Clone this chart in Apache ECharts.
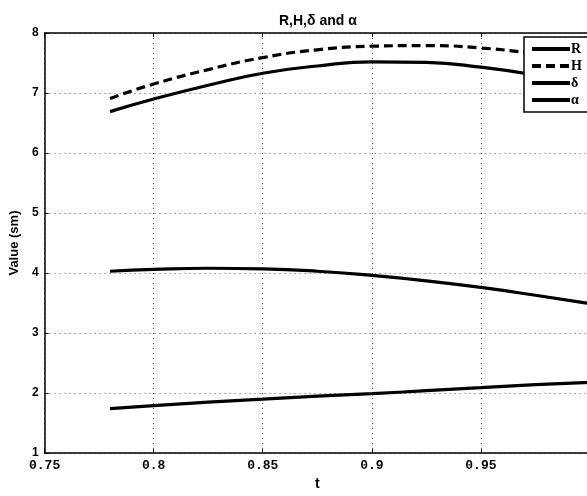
<!DOCTYPE html>
<html>
<head>
<meta charset="utf-8">
<script src="https://cdn.jsdelivr.net/npm/echarts@6/dist/echarts.min.js"></script>
<style>
html, body { margin: 0; padding: 0; background: #fff; overflow: hidden; }
#chart { width: 600px; height: 496px; }
</style>
</head>
<body>
<div id="chart"></div>
<script>
// values
var tVals = [0.78, 0.8, 0.825, 0.85, 0.875, 0.9, 0.925, 0.95, 0.975, 1.0];
var rVals = [6.69, 6.90, 7.13, 7.33, 7.45, 7.52, 7.51, 7.43, 7.30, 7.12];
var hVals = [6.91, 7.15, 7.39, 7.59, 7.72, 7.78, 7.79, 7.75, 7.65, 7.50];
var dVals = [4.03, 4.06, 4.08, 4.07, 4.03, 3.96, 3.87, 3.76, 3.63, 3.49];
var aVals = [1.74, 1.79, 1.85, 1.90, 1.95, 1.99, 2.04, 2.09, 2.14, 2.18];
var names = ['R', 'H', 'δ', 'α'];

function pairs(ys) {
    var out = [];
    for (var i = 0; i < tVals.length; i++) {
        out.push([tVals[i], ys[i]]);
    }
    return out;
}

function makeLine(name, ys, dashed) {
    return {
        name: name,
        type: 'line',
        smooth: true,
        symbol: 'none',
        data: pairs(ys),
        lineStyle: { color: '#000', width: 3.2, type: dashed ? [9, 5] : 'solid' },
        itemStyle: { color: '#000' }
    };
}

// the plot runs a few px past the window edge, like the original figure
var myChart = echarts.init(document.getElementById('chart'), null, { renderer: 'canvas' });
var gridLine = { show: true, lineStyle: { color: '#555', width: 1, type: [1, 4] } };
var option = {
    animation: false,
    backgroundColor: '#fff',
    title: {
        text: 'R,H,δ and α',
        left: 274,
        top: 9,
        textStyle: { fontFamily: 'Liberation Sans', fontWeight: 'bold', fontSize: 14, color: '#000' }
    },
    legend: {
        data: names,
        orient: 'vertical',
        left: 524,
        top: 37,
        padding: [5, 20, 5, 6],
        itemWidth: 38,
        itemHeight: 12,
        itemGap: 3,
        itemStyle: { opacity: 0 },
        lineStyle: { width: 4 },
        backgroundColor: '#fff',
        borderColor: '#000',
        borderWidth: 1.5,
        borderRadius: 0,
        textStyle: { fontFamily: 'Liberation Serif', fontWeight: 'bold', fontSize: 14, color: '#000', padding: [0, 0, 0, -4] }
    },
    grid: { left: 44, right: 10, top: 33, bottom: 32 },
    xAxis: [
        {
            type: 'value',
            min: 0.75,
            max: 1.0,
            interval: 0.05,
            name: 't',
            nameLocation: 'middle',
            nameGap: 22,
            nameTextStyle: { fontFamily: 'Liberation Sans', fontWeight: 'bold', fontSize: 14, color: '#000' },
            axisLine: { lineStyle: { color: '#000', width: 1.5 } },
            axisTick: { inside: true, length: 4, lineStyle: { color: '#000' } },
            axisLabel: {
                fontFamily: 'Liberation Mono', fontWeight: 'bold', fontSize: 13, color: '#000', margin: 6,
                showMaxLabel: false,
                formatter: function (v) { return String(+v.toFixed(2)); }
            },
            splitLine: gridLine
        },
        {
            type: 'value',
            position: 'top',
            min: 0.75,
            max: 1.0,
            interval: 0.05,
            axisLine: { show: true, onZero: false, lineStyle: { color: '#000', width: 1.5 } },
            axisTick: { inside: true, length: 4, lineStyle: { color: '#000' } },
            axisLabel: { show: false },
            splitLine: { show: false }
        }
    ],
    yAxis: {
        type: 'value',
        min: 1,
        max: 8,
        interval: 1,
        name: 'Value (sm)',
        nameLocation: 'middle',
        nameGap: 17,
        nameTextStyle: { fontFamily: 'Liberation Sans', fontWeight: 'bold', fontSize: 13, color: '#000' },
        axisLine: { show: true, lineStyle: { color: '#000', width: 1.5 } },
        axisTick: { show: true, inside: true, length: 4, lineStyle: { color: '#000' } },
        axisLabel: { fontFamily: 'Liberation Sans', fontWeight: 'bold', fontSize: 12, color: '#000', margin: 6 },
        splitLine: gridLine
    },
    series: [
        makeLine(names[0], rVals, false),
        makeLine(names[1], hVals, true),
        makeLine(names[2], dVals, false),
        makeLine(names[3], aVals, false)
    ]
};
myChart.setOption(option);
</script>
</body>
</html>
